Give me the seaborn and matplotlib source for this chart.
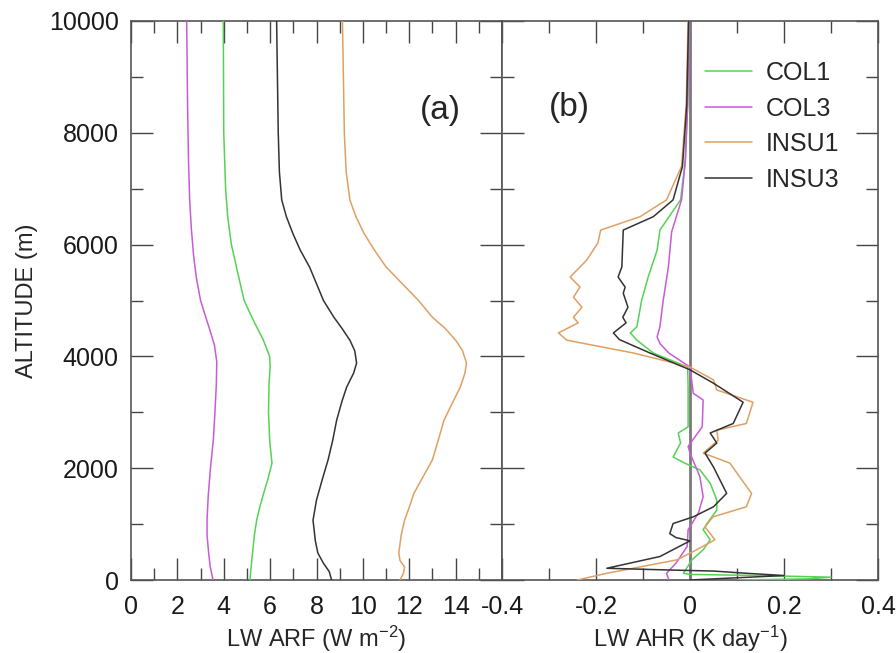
import numpy as np
import pandas as pd
import matplotlib
matplotlib.use("Agg")
import matplotlib.pyplot as plt
from matplotlib.ticker import MultipleLocator
import seaborn as sns

# ---------------- data ----------------
series = ["COL1", "COL3", "INSU1", "INSU3"]
colors = {"COL1": "#55d255", "COL3": "#c95bd8", "INSU1": "#dfa063", "INSU3": "#333333"}

# Panel (a): LW ARF (W m-2) vs altitude (m)
arf_alt_col1 = [0, 230, 480, 800, 1070, 1300, 1550, 1800, 2090, 2500, 3000, 3500, 3800, 4000, 4300, 4650, 5000, 5500, 6000, 6500,
                7000, 8000, 10000]
arf_col1 = [5.13, 5.18, 5.24, 5.32, 5.42, 5.55, 5.72, 5.9, 6.08, 5.98, 5.93, 5.95, 6.0, 5.98, 5.7, 5.27, 4.88, 4.6, 4.33, 4.17,
            4.08, 4.0, 3.98]
arf_alt_col3 = [0, 230, 480, 800, 1070, 1500, 2020, 2500, 3000, 3500, 3900, 4200, 4500, 4800, 5000, 5400, 5800, 6300, 6800, 7500,
                8500, 10000]
arf_col3 = [3.54, 3.42, 3.35, 3.28, 3.28, 3.33, 3.43, 3.55, 3.62, 3.68, 3.7, 3.6, 3.38, 3.15, 3.0, 2.82, 2.7, 2.6, 2.53, 2.48,
            2.44, 2.4]
arf_alt_insu1 = [0, 120, 230, 350, 480, 800, 1070, 1300, 1550, 1850, 2150, 2500, 2860, 3200, 3450, 3700, 3880, 4100, 4290, 4500,
                 4700, 5000, 5300, 5600, 5900, 6200, 6500, 6800, 7300, 8000, 10000]
arf_insu1 = [11.6, 11.75, 11.8, 11.6, 11.55, 11.65, 11.8, 12.0, 12.2, 12.6, 13.0, 13.25, 13.5, 13.9, 14.2, 14.4, 14.47, 14.3, 14.0, 13.55,
             13.0, 12.4, 11.7, 11.0, 10.5, 10.05, 9.7, 9.44, 9.28, 9.2, 9.12]
arf_alt_insu3 = [0, 150, 300, 480, 700, 1070, 1430, 1800, 2150, 2500, 2860, 3200, 3450, 3700, 3880, 4100, 4290, 4500, 4700, 5000,
                 5300, 5600, 5900, 6200, 6500, 6800, 7300, 8000, 10000]
arf_insu3 = [8.65, 8.55, 8.3, 8.06, 7.95, 7.85, 8.0, 8.25, 8.5, 8.7, 8.87, 9.1, 9.3, 9.6, 9.73, 9.65, 9.44, 9.1, 8.75, 8.3,
             8.0, 7.7, 7.3, 6.98, 6.7, 6.5, 6.4, 6.35, 6.28]

# Panel (b): LW AHR (K day-1) vs altitude (m)
ahr_alt_col1 = [0, 20, 50, 80, 100, 120, 360, 540, 720, 900, 1010, 1250, 1430, 1730, 1970, 2090, 2200, 2450, 2630, 2740, 3450, 3810,
                4060, 4290, 4420, 4530, 5000, 5420, 5900, 6260, 6800, 7500, 8500, 10000]
ahr_col1 = [0.1, 0.25, 0.3, 0.15, 0.0, -0.014, 0.004, 0.028, 0.043, 0.028, 0.036, 0.057, 0.057, 0.043, 0.021, -0.011, -0.036, -0.02, -0.025, -0.004, -0.004, -0.005,
            -0.078, -0.113, -0.127, -0.113, -0.103, -0.089, -0.07, -0.064, -0.02, -0.01, -0.005, -0.002]
ahr_alt_col3 = [0, 120, 300, 600, 900, 1200, 1490, 1850, 2270, 2390, 2740, 3220, 3340, 3810, 4060, 4230, 4350, 4530, 5000, 5600, 6230,
                6800, 7500, 8500, 10000]
ahr_col3 = [-0.045, -0.05, -0.03, -0.006, -0.004, 0.018, 0.028, 0.021, 0.0, -0.004, 0.026, 0.028, 0.007, 0.0, -0.045, -0.064, -0.07, -0.064, -0.057, -0.046, -0.039,
            -0.018, -0.01, -0.005, -0.002]
ahr_alt_insu1 = [0, 120, 360, 540, 720, 950, 1130, 1310, 1550, 1840, 2090, 2270, 2500, 2680, 2800, 3180, 3400, 3580, 3810, 4060, 4290, 4420,
                 4600, 4700, 4880, 5060, 5240, 5420, 5720, 6030, 6260, 6500, 6800, 7400, 8500, 10000]
ahr_insu1 = [-0.24, -0.177, -0.028, 0.014, 0.053, 0.032, 0.049, 0.12, 0.131, 0.106, 0.085, 0.028, 0.06, 0.057, 0.12, 0.134, 0.057, 0.05, 0.0, -0.12, -0.262, -0.28,
             -0.238, -0.248, -0.23, -0.248, -0.234, -0.255, -0.22, -0.196, -0.19, -0.106, -0.05, -0.018, -0.008, -0.004]
ahr_alt_insu3 = [0, 40, 80, 120, 160, 180, 210, 420, 700, 760, 830, 1010, 1130, 1310, 1550, 2020, 2270, 2450, 2630, 2800, 3180, 3520, 3760,
                 4060, 4300, 4420, 4600, 4700, 4880, 5130, 5240, 5420, 5600, 6260, 6500, 6800, 7400, 8500, 10000]
ahr_insu3 = [0.0, 0.1, 0.2, 0.12, 0.05, -0.05, -0.177, -0.064, 0.0, -0.03, -0.043, -0.036, 0.007, 0.05, 0.078, 0.05, 0.032, 0.057, 0.043, 0.092, 0.113, 0.05, 0.0,
             -0.085, -0.15, -0.163, -0.136, -0.143, -0.132, -0.142, -0.138, -0.153, -0.145, -0.142, -0.078, -0.036, -0.016, -0.007, -0.003]

arf = {"COL1": (arf_alt_col1, arf_col1), "COL3": (arf_alt_col3, arf_col3),
       "INSU1": (arf_alt_insu1, arf_insu1), "INSU3": (arf_alt_insu3, arf_insu3)}
ahr = {"COL1": (ahr_alt_col1, ahr_col1), "COL3": (ahr_alt_col3, ahr_col3),
       "INSU1": (ahr_alt_insu1, ahr_insu1), "INSU3": (ahr_alt_insu3, ahr_insu3)}

xticks_a = [0, 2, 4, 6, 8, 10, 12, 14]
xticks_b = [-0.4, -0.2, 0, 0.2, 0.4]
xticklabels_b = ["-0.4", "-0.2", "0", "0.2", "0.4"]
yticks = [0, 2000, 4000, 6000, 8000, 10000]

# ---------------- style ----------------
sns.set_style("ticks")
plt.rcParams["font.family"] = ["Liberation Sans", "DejaVu Sans"]
plt.rcParams["mathtext.fontset"] = "custom"
plt.rcParams["mathtext.rm"] = "Liberation Sans"
plt.rcParams["mathtext.it"] = "Liberation Sans"

fig = plt.figure(figsize=(8.96, 6.53), dpi=100)
axa = fig.add_axes([131 / 896, 1 - 580 / 653, (502 - 131) / 896, (580 - 21) / 653])
axb = fig.add_axes([502 / 896, 1 - 580 / 653, (878 - 502) / 896, (580 - 21) / 653])

def long_df(d):
    rows = []
    for name in series:
        alt, val = d[name]
        for i, (a, v) in enumerate(zip(alt, val)):
            rows.append({"series": name, "alt": a, "val": v, "i": i})
    return pd.DataFrame(rows)

dfa = long_df(arf)
dfb = long_df(ahr)

axb.axvline(0, color="#7a7a7a", lw=2.0, zorder=1)

for ax, df in [(axa, dfa), (axb, dfb)]:
    sns.lineplot(data=df, x="val", y="alt", hue="series", hue_order=series,
                 palette=colors, sort=False, estimator=None, units="series",
                 lw=1.1, ax=ax, legend=(ax is axb), zorder=3)

for ax in (axa, axb):
    ax.set_ylim(0, 10000)
    ax.yaxis.set_major_locator(MultipleLocator(2000))
    ax.yaxis.set_minor_locator(MultipleLocator(1000))
    ax.tick_params(which="both", direction="in", top=True, right=True,
                   colors="#444444", labelcolor="#1a1a1a", labelsize=18)
    ax.tick_params(which="major", length=16, width=1.0)
    ax.tick_params(which="minor", length=8.5, width=1.0)
    ax.tick_params(axis="x", which="both", pad=11)
    ax.tick_params(axis="y", which="both", pad=9)
    for s in ax.spines.values():
        s.set_color("#555555")
        s.set_linewidth(1.2)
    ax.set_ylabel("")

axa.set_xlim(0, 16)
axa.set_xticks(xticks_a)
axa.xaxis.set_minor_locator(MultipleLocator(1))
axa.set_yticks(yticks)
axa.set_ylabel("ALTITUDE (m)", fontsize=17, labelpad=8)
axa.set_xlabel(r"LW ARF (W m$^{-2}$)", fontsize=17, labelpad=3)
axa.text(0.834, 0.84, "(a)", transform=axa.transAxes, fontsize=24, ha="center", va="center")

axb.set_xlim(-0.4, 0.4)
axb.set_xticks(xticks_b)
axb.set_xticklabels(xticklabels_b)
axb.xaxis.set_minor_locator(MultipleLocator(0.1))
axb.tick_params(labelleft=False)
axb.set_xlabel(r"LW AHR (K day$^{-1}$)", fontsize=17, labelpad=3)
axb.text(0.18, 0.845, "(b)", transform=axb.transAxes, fontsize=24, ha="center", va="center")

leg = axb.legend(loc="upper left", bbox_to_anchor=(0.513, 0.946), frameon=False,
                 fontsize=18, handlelength=1.9, handletextpad=0.55, labelspacing=0.46,
                 borderaxespad=0.0)
for line in leg.get_lines():
    line.set_linewidth(1.1)
leg.set_title(None)

fig.savefig("out.png", dpi=100)
